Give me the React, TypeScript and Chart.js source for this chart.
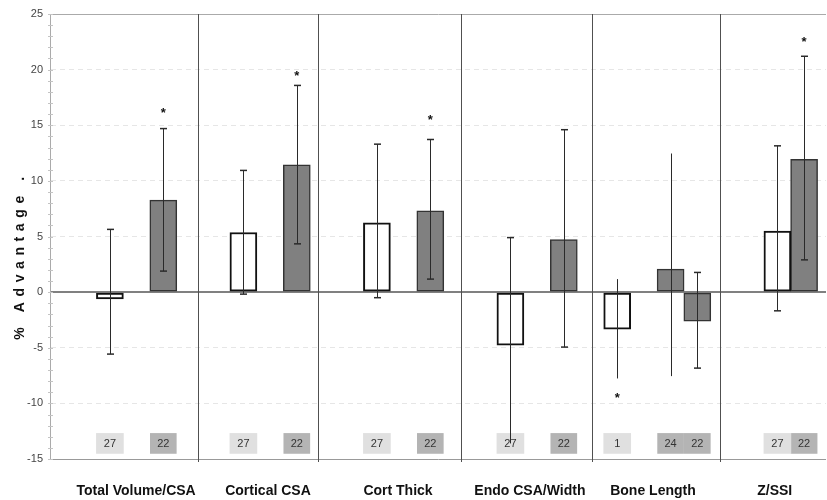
import React, { useEffect, useRef } from "react";
import { Chart, registerables } from "chart.js";

Chart.register(...registerables);

// ---- data ----
const groups = ["Total Volume/CSA", "Cortical CSA", "Cort Thick", "Endo CSA/Width", "Bone Length", "Z/SSI"];
const groupLabelPos = [2.98, 7.92, 12.79, 17.73, 22.34, 26.9];
const dividerPos = [5.3, 9.79, 15.15, 20.06, 24.85];

const yTicks = [-15, -10, -5, 0, 5, 10, 15, 20, 25];

const whiteSlots = [2, 7, 12, 17, 21, 27];
const whiteValues = [-0.6, 5.36, 6.23, -4.76, -3.33, 5.48];
const whiteErrLow = [-5.57, -0.18, -0.5, -13.6, -7.76, -1.68];
const whiteErrHigh = [5.64, 10.94, 13.3, 4.9, 1.17, 13.15];
const whiteCapLow = [1, 1, 1, 0, 0, 1];
const whiteCapHigh = [1, 1, 1, 1, 0, 1];
const whiteN = ["27", "27", "27", "27", "1", "27"];

const greySlots = [4, 9, 14, 19, 23, 24, 28];
const greyValues = [8.27, 11.44, 7.31, 4.73, 2.07, -2.6, 11.93];
const greyErrLow = [1.89, 4.34, 1.17, -4.94, -7.55, -6.83, 2.9];
const greyErrHigh = [14.7, 18.58, 13.72, 14.6, 12.46, 1.77, 21.2];
const greyCapLow = [1, 1, 1, 1, 0, 1, 1];
const greyCapHigh = [1, 1, 1, 1, 0, 1, 1];
const greyN = ["22", "22", "22", "22", "24", "22", "22"];

const starSlots = [4, 9, 14, 21, 28];
const starValues = [16.4, 19.7, 15.76, -9.2, 22.8];

const Y_MIN = -15;
const Y_MAX = 25;
const COUNT_LOW = -14.5;
const COUNT_HIGH = -12.7;
const X_MIN = -0.2434;
const X_MAX = 28.82;

const FONT = "Arial, 'Liberation Sans', sans-serif";

const decor = {
  id: "decor",
  beforeDatasetsDraw(chart: any) {
    const { ctx, chartArea, scales } = chart;
    const xs = scales.x;
    const ys = scales.y;
    ctx.save();
    ctx.lineWidth = 1;
    ctx.strokeStyle = "#c4c4c4";
    for (let v = Y_MIN; v <= Y_MAX; v += 1) {
      const py = Math.round(ys.getPixelForValue(v)) + 0.5;
      ctx.beginPath();
      ctx.moveTo(chartArea.left - 2, py);
      ctx.lineTo(chartArea.left + 3, py);
      ctx.stroke();
    }
    ctx.strokeStyle = "#505050";
    dividerPos.forEach((d) => {
      const px = Math.round(xs.getPixelForValue(d)) + 0.5;
      ctx.beginPath();
      ctx.moveTo(px, chartArea.top);
      ctx.lineTo(px, chartArea.bottom + 3);
      ctx.stroke();
    });
    ctx.restore();
  },
  afterDatasetsDraw(chart: any) {
    const { ctx, scales } = chart;
    const xs = scales.x;
    const ys = scales.y;
    ctx.save();
    // count labels
    ctx.fillStyle = "#333";
    ctx.font = `11px ${FONT}`;
    ctx.textAlign = "center";
    ctx.textBaseline = "middle";
    const drawCounts = (dsIndex: number, labels: string[]) => {
      const meta = chart.getDatasetMeta(dsIndex);
      meta.data.forEach((el: any, i: number) => {
        ctx.fillText(labels[i], el.x, (el.y + el.base) / 2 + 0.5);
      });
    };
    drawCounts(2, whiteN);
    drawCounts(3, greyN);

    // error bars
    ctx.strokeStyle = "#2a2a2a";
    ctx.lineWidth = 1;
    const cap = 3.5;
    const drawErr = (slots: number[], lo: number[], hi: number[], cl: number[], ch: number[]) => {
      slots.forEach((s, i) => {
        const px = Math.round(xs.getPixelForValue(s)) + 0.5;
        const yl = ys.getPixelForValue(lo[i]);
        const yh = ys.getPixelForValue(hi[i]);
        ctx.beginPath();
        ctx.moveTo(px, yl);
        ctx.lineTo(px, yh);
        ctx.stroke();
        ctx.lineWidth = 1.5;
        if (cl[i]) {
          ctx.beginPath();
          ctx.moveTo(px - cap, yl);
          ctx.lineTo(px + cap, yl);
          ctx.stroke();
        }
        if (ch[i]) {
          ctx.beginPath();
          ctx.moveTo(px - cap, yh);
          ctx.lineTo(px + cap, yh);
          ctx.stroke();
        }
        ctx.lineWidth = 1;
      });
    };
    drawErr(whiteSlots, whiteErrLow, whiteErrHigh, whiteCapLow, whiteCapHigh);
    drawErr(greySlots, greyErrLow, greyErrHigh, greyCapLow, greyCapHigh);

    // stars
    ctx.fillStyle = "#111";
    ctx.font = `bold 13px ${FONT}`;
    ctx.textBaseline = "alphabetic";
    starSlots.forEach((s, i) => {
      const px = xs.getPixelForValue(s);
      const py = ys.getPixelForValue(starValues[i]);
      ctx.fillText("*", px, py + 7.5);
    });
    ctx.restore();
  },
  afterDraw(chart: any) {
    const { ctx, chartArea } = chart;
    ctx.save();
    ctx.translate(20, (chartArea.top + chartArea.bottom) / 2 + 19);
    ctx.rotate(-Math.PI / 2);
    ctx.fillStyle = "#111";
    ctx.font = `bold 14px ${FONT}`;
    (ctx as any).letterSpacing = "5.6px";
    ctx.textAlign = "center";
    ctx.textBaseline = "middle";
    ctx.fillText("% Advantage .", 0, 0);
    ctx.restore();
  },
};

export default function App() {
  const ref = useRef<HTMLCanvasElement | null>(null);

  useEffect(() => {
    if (!ref.current) return;
    const chart = new Chart(ref.current, {
      type: "bar",
      data: {
        datasets: [
          {
            label: "white",
            data: whiteSlots.map((x, i) => ({ x, y: whiteValues[i] })),
            backgroundColor: "#ffffff",
            borderColor: "#111111",
            borderWidth: 2,
            borderSkipped: false,
            barThickness: 27,
            grouped: false,
            order: 1,
          } as any,
          {
            label: "grey",
            data: greySlots.map((x, i) => ({ x, y: greyValues[i] })),
            backgroundColor: "#808080",
            borderColor: "#333333",
            borderWidth: 1.5,
            borderSkipped: false,
            barThickness: 27,
            grouped: false,
            order: 1,
          } as any,
          {
            label: "nWhite",
            data: whiteSlots.map((x) => ({ x, y: [COUNT_LOW, COUNT_HIGH] })),
            backgroundColor: "#e0e0e0",
            borderWidth: 0,
            barThickness: 27,
            grouped: false,
            order: 2,
          } as any,
          {
            label: "nGrey",
            data: greySlots.map((x) => ({ x, y: [COUNT_LOW, COUNT_HIGH] })),
            backgroundColor: "#b4b4b4",
            borderWidth: 0,
            barThickness: 26,
            grouped: false,
            order: 2,
          } as any,
        ],
      },
      options: {
        animation: false,
        responsive: true,
        maintainAspectRatio: false,
        layout: { padding: { top: 14, right: 1, left: 0, bottom: 0 } },
        plugins: { legend: { display: false }, tooltip: { enabled: false } },
        scales: {
          x: {
            type: "linear",
            offset: false,
            min: X_MIN,
            max: X_MAX,
            afterBuildTicks: (s: any) => {
              s.ticks = groupLabelPos.map((v) => ({ value: v }));
            },
            afterFit: (s: any) => {
              s.height = 41;
            },
            grid: { display: false, drawTicks: false },
            border: { display: false },
            ticks: {
              autoSkip: false,
              maxRotation: 0,
              padding: 24,
              color: "#111",
              font: { family: FONT, size: 14, weight: "bold" },
              callback: (_v: any, i: number) => groups[i],
            },
          },
          y: {
            min: Y_MIN,
            max: Y_MAX,
            afterBuildTicks: (s: any) => {
              s.ticks = yTicks.map((v) => ({ value: v }));
            },
            afterFit: (s: any) => {
              s.width = 50;
            },
            ticks: {
              padding: 7,
              color: "#444",
              font: { family: FONT, size: 11 },
            },
            grid: {
              drawTicks: false,
              color: (c: any) => {
                const v = c.tick && c.tick.value;
                if (v === 0) return "#808080";
                if (v === Y_MAX) return "#aaaaaa";
                if (v === Y_MIN) return "#999999";
                return "#e6e6e6";
              },
              lineWidth: (c: any) => (c.tick && c.tick.value === 0 ? 2 : 1),
            },
            border: {
              display: true,
              color: "#aaaaaa",
              width: 1,
              dash: (c: any) => {
                const v = c.tick && c.tick.value;
                if (v === undefined || v === 0 || v === Y_MAX || v === Y_MIN) return [];
                return [5, 4];
              },
            },
          },
        },
      } as any,
      plugins: [decor],
    });
    return () => chart.destroy();
  }, []);

  return (
    <div style={{ position: "absolute", left: 0, top: 0, width: 827, height: 500, background: "#fff" }}>
      <canvas ref={ref} />
    </div>
  );
}
